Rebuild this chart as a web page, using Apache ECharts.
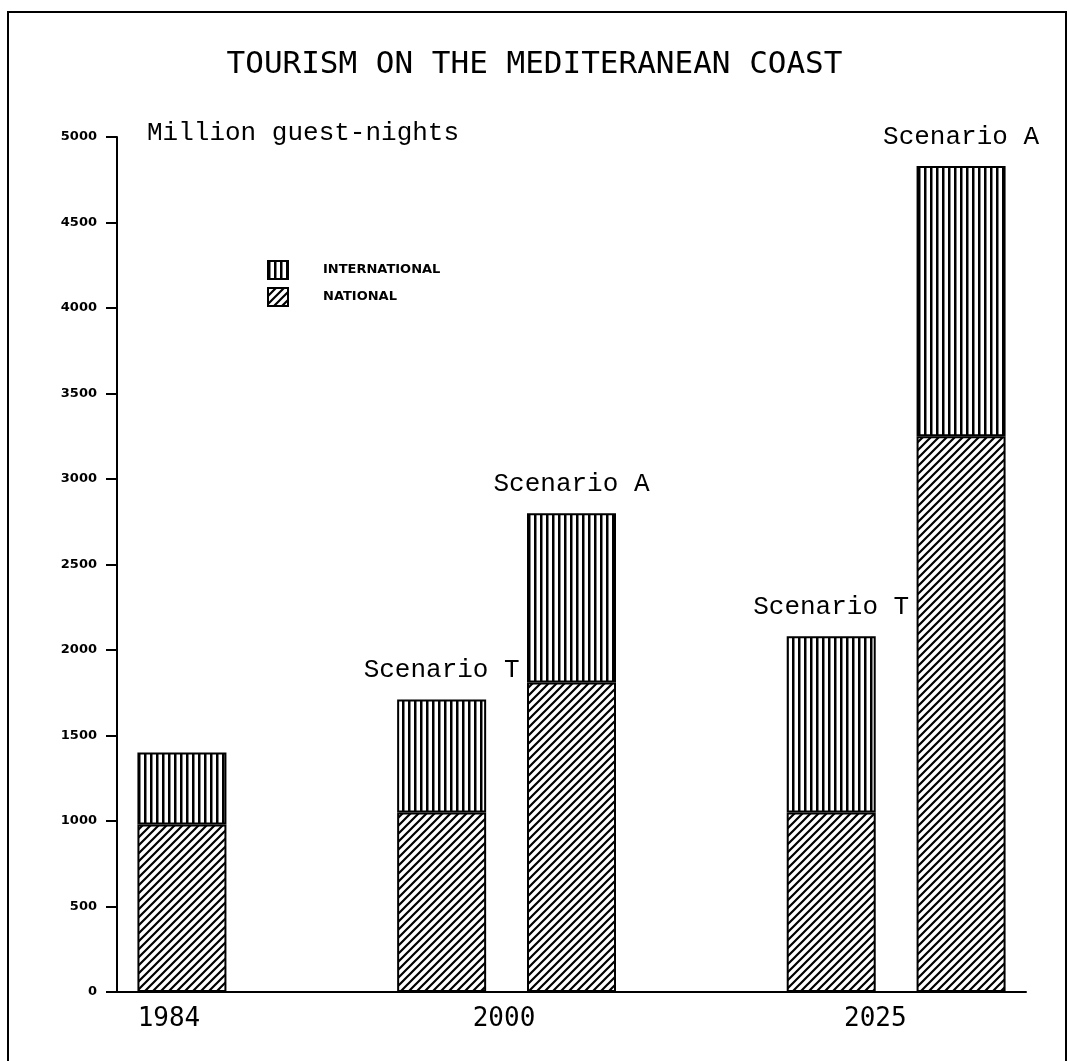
<!DOCTYPE html>
<html>
<head>
    <meta charset="UTF-8">
    <title>Tourism on the Mediterranean coast</title>
    <script src="https://cdn.jsdelivr.net/npm/echarts@6/dist/echarts.min.js"></script>
    <style>
        html, body { margin: 0; padding: 0; background: #fff; }
        #chart { width: 1069px; height: 1061px; }
    </style>
</head>
<body>
<div id="chart"></div>
<script>
// bar slots (the empty ones are just spacing between year groups)
var slots = ['1984', 'gap1', '2000 T', '2000 A', 'gap2', '2025 T', '2025 A'];
var national = [980, null, 1050, 1810, null, 1050, 3250];
var international = [420, null, 660, 990, null, 1030, 1580];
var scenario = ['', '', 'Scenario T', 'Scenario A', '', 'Scenario T', 'Scenario A'];

// year labels sit under each group, not under a single bar
var yearLabels = ['1984', '2000', '2025'];
var yearPos = [0.4, 2.98, 5.84];

// hatch fills
function stripes() {
    var c = document.createElement('canvas');
    c.width = 6; c.height = 6;
    var g = c.getContext('2d');
    g.fillStyle = '#fff';
    g.fillRect(0, 0, 6, 6);
    g.fillStyle = '#000';
    g.fillRect(0, 0, 2.5, 6);
    return c;
}
function hatch() {
    var s = 8;
    var c = document.createElement('canvas');
    c.width = s; c.height = s;
    var g = c.getContext('2d');
    g.fillStyle = '#fff';
    g.fillRect(0, 0, s, s);
    g.strokeStyle = '#000';
    g.lineWidth = 2.2;
    g.beginPath();
    g.moveTo(0, s); g.lineTo(s, 0);
    g.moveTo(-2, 2); g.lineTo(2, -2);
    g.moveTo(s - 2, s + 2); g.lineTo(s + 2, s - 2);
    g.stroke();
    return c;
}

var myChart = echarts.init(document.getElementById('chart'));

var option = {
    backgroundColor: '#fff',
    animation: false,
    title: {
        text: 'TOURISM ON THE MEDITERANEAN COAST',
        left: 'center',
        top: 44,
        textStyle: {
            fontFamily: 'DejaVu Sans Mono',
            fontSize: 31,
            fontWeight: 'normal',
            color: '#000'
        }
    },
    legend: {
        orient: 'vertical',
        left: 262,
        top: 255,
        itemWidth: 20,
        itemHeight: 18,
        itemGap: 7,
        icon: 'rect',
        data: ['INTERNATIONAL', 'NATIONAL'],
        textStyle: {
            fontFamily: 'DejaVu Sans',
            fontWeight: 'bold',
            fontSize: 13,
            color: '#000',
            padding: [0, 0, 0, 30]
        }
    },
    graphic: [{
        type: 'rect',
        shape: { x: 8, y: 12, width: 1058, height: 1100 },
        style: { fill: 'none', stroke: '#000', lineWidth: 2 },
        silent: true
    }],
    grid: {
        left: 117,
        right: 43,
        top: 137,
        bottom: 69,
        containLabel: false
    },
    xAxis: [
        {
            type: 'category',
            data: slots,
            boundaryGap: true,
            axisLine: { lineStyle: { color: '#000', width: 2 } },
            axisTick: { show: false },
            axisLabel: { show: false }
        },
        {
            type: 'value',
            min: 0,
            max: 7,
            position: 'bottom',
            axisLine: { show: false },
            axisTick: { show: false },
            splitLine: { show: false },
            axisLabel: {
                customValues: yearPos,
                formatter: function (v) {
                    var i = yearPos.indexOf(v);
                    return i < 0 ? '' : yearLabels[i];
                },
                margin: 14,
                fontFamily: 'DejaVu Sans Mono',
                fontSize: 26,
                color: '#000'
            }
        }
    ],
    yAxis: {
        type: 'value',
        min: 0,
        max: 5000,
        interval: 500,
        name: 'Million guest-nights',
        nameLocation: 'end',
        nameGap: 4,
        nameTextStyle: {
            fontFamily: 'Liberation Mono',
            fontSize: 26,
            color: '#000',
            align: 'left',
            verticalAlign: 'middle',
            padding: [0, 0, 0, 30]
        },
        axisLine: { show: true, lineStyle: { color: '#000', width: 2 } },
        axisTick: { show: true, length: 11, lineStyle: { color: '#000', width: 2 } },
        splitLine: { show: false },
        axisLabel: {
            margin: 20,
            formatter: function (v) { return String(v); },
            fontFamily: 'DejaVu Sans',
            fontWeight: 'bold',
            fontSize: 13,
            color: '#000'
        }
    },
    series: [
        {
            name: 'NATIONAL',
            type: 'bar',
            stack: 'total',
            xAxisIndex: 0,
            barWidth: 89,
            data: national,
            itemStyle: {
                color: { image: hatch(), repeat: 'repeat' },
                borderColor: '#000',
                borderWidth: 2
            }
        },
        {
            name: 'INTERNATIONAL',
            type: 'bar',
            stack: 'total',
            xAxisIndex: 0,
            barWidth: 89,
            data: international,
            itemStyle: {
                color: { image: stripes(), repeat: 'repeat' },
                borderColor: '#000',
                borderWidth: 2
            },
            label: {
                show: true,
                position: 'top',
                distance: 16,
                formatter: function (p) { return scenario[p.dataIndex]; },
                fontFamily: 'Liberation Mono',
                fontSize: 26,
                color: '#000'
            }
        }
    ]
};
myChart.setOption(option);
</script>
</body>
</html>
